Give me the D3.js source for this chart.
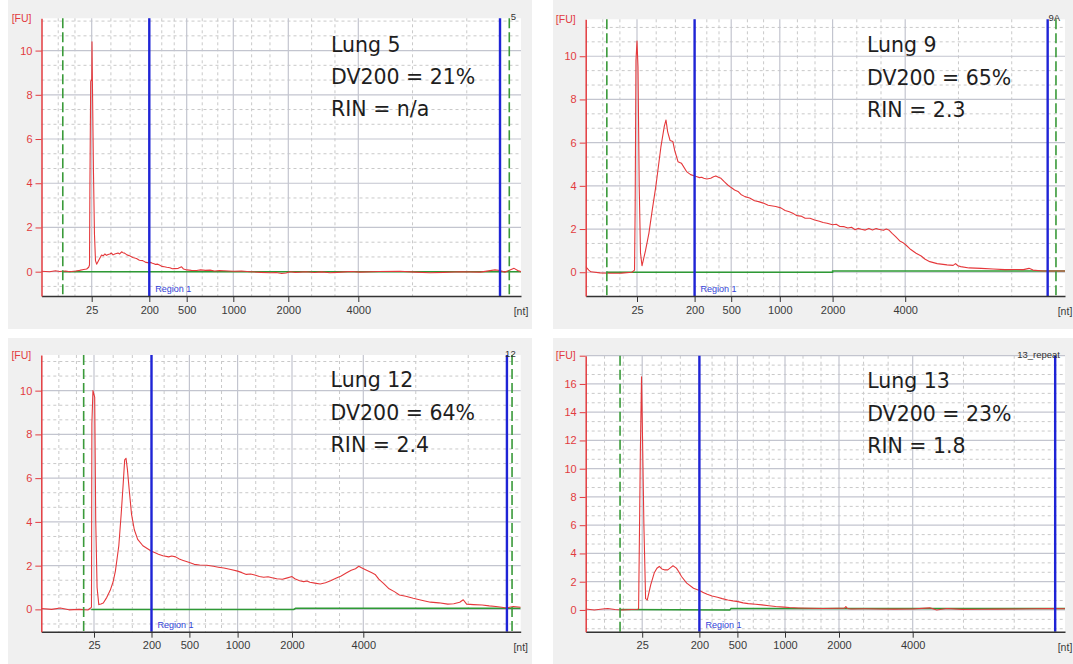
<!DOCTYPE html>
<html lang="en">
<head>
<meta charset="utf-8">
<title>Lung RNA electropherograms</title>
<script src="https://cdn.jsdelivr.net/npm/d3@7/dist/d3.min.js"></script>
<style>
body { margin: 0; background: #fff; }
svg { display: block; }
.note { font-family: "DejaVu Sans", sans-serif; font-size: 20.5px; fill: #1e1e1e; }
.xaxis text { font-family: "Liberation Sans", Arial, sans-serif; font-size: 11px; fill: #3a3a3a; }
.yaxis text { font-family: "Liberation Sans", Arial, sans-serif; font-size: 11px; fill: #e23b3f; }
.small { font-family: "Liberation Sans", Arial, sans-serif; }
</style>
</head>
<body>
<script>
// --- data -------------------------------------------------------------
var sampleTitles = ["Lung 5", "Lung 9", "Lung 12", "Lung 13"];
var dv200Values = ["21%", "65%", "64%", "23%"];
var rinValues = ["n/a", "2.3", "2.4", "1.8"];
var chipLabels = ["5", "9A", "12", "13_repeat"];

// ladder sizes shown on the x axis [nt], plus the nominal ends of the axis
var ladderNt = [25, 200, 500, 1000, 2000, 4000];
var axisEndsNt = [0, 6000];

// electropherogram traces: [size nt, fluorescence FU]
var traceLung5 = [[0,0.02],[4,0.0],[7,0.04],[9,0.01],[12,0.03],[14,0.0],[17,0.03],[19,0.06],[21,0.1],[22.5,0.12],[23.5,0.2],[23.9,0.3],
  [24.1,3.7],[24.5,8.6],[25.2,8.7],[25.9,10.4],[27.2,8.5],[30.4,4.5],[33.4,1.7],[36.5,0.5],[40,0.34],[44,0.45],[50,0.62],[55,0.75],
  [60,0.72],[65,0.8],[70,0.74],[75,0.78],[80,0.8],[85,0.84],[90,0.76],[95,0.8],[100,0.82],[105,0.84],[110,0.8],[116,0.9],[120,0.86],
  [125,0.84],[132,0.76],[140,0.72],[150,0.64],[161,0.6],[170,0.52],[180,0.5],[190,0.42],[200,0.4],[212,0.42],[225,0.38],[238,0.36],
  [250,0.33],[268,0.34],[285,0.29],[300,0.24],[320,0.22],[340,0.2],[365,0.18],[385,0.13],[400,0.14],[432,0.15],[459,0.22],[475,0.12],
  [500,0.08],[550,0.06],[607,0.05],[650,0.08],[700,0.06],[750,0.07],[800,0.03],[850,0.05],[900,0.04],[1000,0.02],[1150,0.03],[1300,0.0],
  [1500,-0.03],[1670,-0.05],[1780,-0.04],[1880,-0.08],[1960,-0.06],[2050,0.0],[2200,-0.03],[2330,-0.02],[2500,0.0],[2750,-0.04],[2950,-0.01],
  [3190,-0.05],[3400,-0.03],[3600,-0.01],[3800,0.01],[4020,-0.02],[4250,0.01],[4510,0.02],[4700,-0.02],[4880,-0.05],[5050,-0.03],[5250,0.0],
  [5500,-0.02],[5680,0.08],[5740,0.05],[5800,-0.02],[5915,0.15],[5960,0.05],[6000,0.0]];
var traceLung9 = [[0,0.26],[1.5,0.1],[2.5,0.02],[7,-0.03],[11.8,-0.05],[17.5,-0.04],[22.5,0.0],[23.8,0.1],[24.1,3.0],[24.5,9.8],[25,10.7],
  [28,9.5],[31.7,4.0],[35.6,0.9],[40.2,0.3],[50.8,1.0],[61.1,1.8],[71.5,2.9],[82.1,3.96],[97.6,5.8],[107.9,6.75],[113.1,7.05],[118.2,6.5],
  [125.5,6.1],[134,6.05],[139.2,5.66],[149.5,5.12],[159.8,5.05],[175.6,4.66],[188,4.52],[200,4.46],[220,4.42],[240,4.38],[258,4.4],
  [275,4.35],[300,4.32],[332,4.35],[355,4.42],[374,4.46],[395,4.4],[416,4.35],[445,4.18],[472,4.04],[500,3.92],[535,3.81],[570,3.74],
  [600,3.6],[641,3.5],[690,3.44],[740,3.31],[782,3.27],[830,3.2],[880,3.1],[958,3.04],[1020,2.98],[1100,2.86],[1180,2.8],[1246,2.73],
  [1320,2.62],[1400,2.6],[1480,2.5],[1572,2.5],[1660,2.42],[1750,2.36],[1820,2.3],[1896,2.27],[2000,2.2],[2100,2.22],[2200,2.12],
  [2320,2.11],[2420,2.05],[2520,2.08],[2620,1.97],[2700,2.03],[2791,1.99],[2900,1.95],[3000,2.03],[3100,1.96],[3200,2.02],[3265,1.99],
  [3400,1.94],[3480,2.0],[3546,1.96],[3640,1.8],[3736,1.65],[3850,1.45],[3930,1.38],[4009,1.26],[4070,1.05],[4136,0.88],[4200,0.75],
  [4250,0.6],[4308,0.49],[4400,0.4],[4523,0.34],[4600,0.32],[4630,0.4],[4660,0.3],[4695,0.26],[4800,0.2],[4952,0.18],[5100,0.15],
  [5250,0.12],[5381,0.13],[5480,0.12],[5550,0.18],[5600,0.1],[5723,0.06],[6000,0.06]];
var traceLung12 = [[0,0.04],[4.9,0.0],[9,0.06],[13.1,-0.02],[18,0.0],[22.1,-0.03],[23.2,0.05],[23.8,0.1],[24,8.5],[24.5,10.0],[27.1,9.7],
  [30.2,4.1],[34.4,1.0],[39.6,0.22],[46,0.25],[53.3,0.29],[64,0.55],[74.3,0.87],[83,1.25],[90.1,1.75],[100.5,2.91],[107.8,4.37],[114.2,5.82],
  [118.4,6.84],[122.4,6.91],[126.7,6.4],[131.8,5.53],[139.1,4.37],[147.7,3.64],[158,3.2],[173.8,2.91],[200,2.66],[225,2.6],[254.6,2.52],
  [290,2.45],[336,2.4],[360,2.44],[391,2.4],[420,2.3],[445,2.25],[470,2.2],[500,2.14],[550,2.06],[607,2.03],[680,2.02],[750,1.97],
  [800,1.93],[857,1.89],[930,1.82],[1000,1.75],[1080,1.68],[1160,1.6],[1240,1.62],[1316,1.57],[1400,1.5],[1480,1.47],[1560,1.49],
  [1632,1.45],[1720,1.4],[1823,1.38],[1900,1.43],[2000,1.5],[2080,1.4],[2213,1.31],[2330,1.27],[2420,1.3],[2502,1.24],[2640,1.2],
  [2791,1.16],[2940,1.22],[3083,1.31],[3230,1.42],[3380,1.53],[3520,1.66],[3661,1.79],[3780,1.86],[3874,1.97],[3950,1.9],[4022,1.82],
  [4109,1.67],[4150,1.6],[4197,1.38],[4260,1.18],[4328,0.94],[4400,0.8],[4459,0.66],[4540,0.6],[4634,0.51],[4740,0.42],[4853,0.33],
  [4960,0.3],[5073,0.24],[5150,0.26],[5225,0.33],[5270,0.44],[5313,0.24],[5400,0.22],[5510,0.2],[5600,0.16],[5685,0.13],[5760,0.1],
  [5816,0.06],[5860,0.1],[5904,0.13],[6000,0.1]];
var traceLung13 = [[0,0.07],[3.8,0.0],[8.3,0.08],[9.8,0.1],[12.9,0.03],[15.9,0.0],[20.4,0.03],[23.1,0.05],[23.4,0.1],[23.5,1.4],[24.2,11.3],
  [24.7,16.5],[26.8,11.0],[30.2,6.0],[35.4,0.8],[40.6,0.71],[51,1.78],[61.7,2.61],[70,2.95],[77.3,3.08],[85,2.9],[92.9,2.84],[103.3,2.84],
  [112,3.0],[119.2,3.13],[129.6,2.96],[137,2.7],[145.2,2.37],[161.2,1.9],[182,1.54],[200,1.37],[230,1.24],[261.6,1.11],[300,0.99],
  [342.9,0.9],[380,0.8],[424.2,0.71],[465,0.64],[506.3,0.59],[560,0.5],[614.4,0.45],[690,0.4],[758.3,0.36],[830,0.3],[902,0.24],
  [990,0.2],[1081,0.17],[1250,0.14],[1463,0.12],[1700,0.1],[1970,0.12],[2150,0.13],[2187,0.24],[2230,0.1],[2326,0.07],[2700,0.08],
  [3072,0.07],[3500,0.06],[4000,0.07],[4225,0.15],[4315,0.0],[4450,0.1],[4650,0.04],[4899,0.05],[5100,0.06],[5350,0.07],[5600,0.08],
  [5799,0.1],[6000,0.09]];

// fitted baselines (green)
var baselineLung5 = [[10.6,0],[6000,0]];
var baselineLung9 = [[10.3,0],[2000,0],[2000,0.06],[6000,0.06]];
var baselineLung12 = [[23.7,0],[2050,0],[2100,0.05],[6000,0.05]];
var baselineLung13 = [[15.2,0.03],[440,0],[450,0.1],[6000,0.1]];

// region 1 limits (blue) and marker limits (green dashed), nt
var regionNt = [[200,5742],[200,5783],[200,5825],[200,5871]];
var markerNt = [[10.6,5856],[10.3,5887],[20.1,5890],[15.2]];

var traces = [traceLung5, traceLung9, traceLung12, traceLung13];
var baselines = [baselineLung5, baselineLung9, baselineLung12, baselineLung13];

// --- layout (pixel positions of the axis stops, per panel) --------------
var panels = [
  {bg: [8, 0, 532, 329], xs: [41.5, 91.7, 149.3, 186.7, 233.3, 288.3, 358.3, 521], top: 18.3, bottom: 296, yDomain: [-1.1, 11.46], note: [331, 51.7]},
  {bg: [553, 0, 1073, 329], xs: [585.7, 637, 694.6, 731.2, 779.8, 832.6, 905.2, 1065], top: 19.3, bottom: 296, yDomain: [-1.1, 11.71], note: [867, 52.3]},
  {bg: [8, 338, 532, 664], xs: [41.3, 94, 151.5, 189.4, 237.6, 292, 363.3, 520.7], top: 355, bottom: 631.7, yDomain: [-1.02, 11.63], note: [330.6, 387.3]},
  {bg: [553, 338, 1073, 664], xs: [585.7, 642.2, 699.4, 737.4, 785, 839, 912.7, 1065], top: 355.7, bottom: 631.7, yDomain: [-1.54, 18], note: [867.2, 388.3]}
];

var red = "#e23b3f", blue = "#1f24d6", green = "#3a9a3a";

var svg = d3.select("body").append("svg")
    .attr("width", 1073)
    .attr("height", 664);

panels.forEach(function(p, i) {
    var g = svg.append("g");
    var L = p.xs[0], R = p.xs[p.xs.length - 1];

    // x is piecewise linear between ladder sizes (like the instrument's axis)
    var x = d3.scaleLinear()
        .domain([axisEndsNt[0]].concat(ladderNt, [axisEndsNt[1]]))
        .range(p.xs);
    var y = d3.scaleLinear().domain(p.yDomain).range([p.bottom, p.top]);

    g.append("rect")
        .attr("x", p.bg[0]).attr("y", p.bg[1])
        .attr("width", p.bg[2] - p.bg[0]).attr("height", p.bg[3] - p.bg[1])
        .attr("fill", "#f0f0f0");
    g.append("rect")
        .attr("x", L).attr("y", p.top)
        .attr("width", R - L).attr("height", p.bottom - p.top)
        .attr("fill", "#ffffff");

    //minor grid: thirds between stops
    var stops = x.domain(), minorX = [];
    for (var k = 0; k < stops.length - 1; k++) {
        var a = stops[k], b = stops[k + 1];
        minorX.push(a + (b - a) / 3, a + 2 * (b - a) / 3);
    }
    var minorY = d3.range(Math.ceil(p.yDomain[0] * 1.5), Math.floor(p.yDomain[1] * 1.5) + 1)
        .filter(function(k) { return k % 3 !== 0; })
        .map(function(k) { return k * 2 / 3; });

    g.selectAll(".mx").data(minorX).enter().append("line")
        .attr("x1", function(d) { return x(d); }).attr("x2", function(d) { return x(d); })
        .attr("y1", p.top).attr("y2", p.bottom)
        .attr("stroke", "#c9c9c9").attr("stroke-width", 1).attr("stroke-dasharray", "3,3");
    g.selectAll(".my").data(minorY).enter().append("line")
        .attr("x1", L).attr("x2", R)
        .attr("y1", function(d) { return y(d); }).attr("y2", function(d) { return y(d); })
        .attr("stroke", "#c9c9c9").attr("stroke-width", 1).attr("stroke-dasharray", "3,3");

    //major grid
    var yTicks = d3.range(0, p.yDomain[1] + 0.001, 2);
    g.selectAll(".gx").data(ladderNt).enter().append("line")
        .attr("x1", function(d) { return x(d); }).attr("x2", function(d) { return x(d); })
        .attr("y1", p.top).attr("y2", p.bottom)
        .attr("stroke", "#c3c5cf").attr("stroke-width", 1.2);
    g.selectAll(".gy").data(yTicks).enter().append("line")
        .attr("x1", L).attr("x2", R)
        .attr("y1", function(d) { return y(d); }).attr("y2", function(d) { return y(d); })
        .attr("stroke", "#c3c5cf").attr("stroke-width", 1.2);

    var clipId = "clip" + i;
    g.append("clipPath").attr("id", clipId).append("rect")
        .attr("x", L).attr("y", p.top).attr("width", R - L).attr("height", p.bottom - p.top);

    var line = d3.line()
        .x(function(d) { return x(d[0]); })
        .y(function(d) { return y(d[1]); });

    g.append("path").datum(baselines[i])
        .attr("d", line)
        .attr("fill", "none").attr("stroke", "#2e9a35").attr("stroke-width", 1.5)
        .attr("clip-path", "url(#" + clipId + ")");

    g.append("path").datum(traces[i])
        .attr("d", line)
        .attr("fill", "none").attr("stroke", "#e5383b").attr("stroke-width", 1.1)
        .attr("stroke-linejoin", "round")
        .attr("clip-path", "url(#" + clipId + ")");

    // markers (green dashed) and region (blue)
    g.selectAll(".mk").data(markerNt[i]).enter().append("line")
        .attr("x1", function(d) { return x(d); }).attr("x2", function(d) { return x(d); })
        .attr("y1", p.top).attr("y2", p.bottom)
        .attr("stroke", green).attr("stroke-width", 1.6).attr("stroke-dasharray", "10,4");
    g.selectAll(".rg").data(regionNt[i]).enter().append("line")
        .attr("x1", function(d) { return x(d); }).attr("x2", function(d) { return x(d); })
        .attr("y1", p.top).attr("y2", p.bottom)
        .attr("stroke", blue).attr("stroke-width", 2.4);

    g.append("text").attr("class", "small")
        .attr("x", x(regionNt[i][0]) + 6).attr("y", p.bottom - 4)
        .attr("font-size", "9px").attr("fill", "#3342d8")
        .text("Region 1");

    // axes
    var xAxis = g.append("g").attr("class", "xaxis")
        .attr("transform", "translate(0," + p.bottom + ")")
        .call(d3.axisBottom(x).tickValues(ladderNt).tickSize(6).tickSizeOuter(0).tickPadding(4)
            .tickFormat(d3.format("d")));
    xAxis.select(".domain").attr("stroke", "#333").attr("stroke-width", 1.5);
    xAxis.selectAll(".tick line").attr("stroke", "#333");

    var yAxis = g.append("g").attr("class", "yaxis")
        .attr("transform", "translate(" + L + ",0)")
        .call(d3.axisLeft(y).tickValues(yTicks).tickSize(6).tickSizeOuter(0).tickPadding(3)
            .tickFormat(function(d) { return d >= p.yDomain[1] - 0.01 ? "" : d; }));
    yAxis.select(".domain").attr("stroke", red).attr("stroke-width", 1.5);
    yAxis.selectAll(".tick line").attr("stroke", red);

    g.append("text").attr("class", "small")
        .attr("x", L - 10).attr("y", p.top).attr("dy", "0.35em")
        .attr("text-anchor", "end").attr("font-size", "10.5px").attr("fill", red)
        .text("[FU]");
    g.append("text").attr("class", "small")
        .attr("x", R).attr("y", p.bottom + 19)
        .attr("text-anchor", "middle").attr("font-size", "10.5px").attr("fill", "#3a3a3a")
        .text("[nt]");
    g.append("text").attr("class", "small")
        .attr("x", R - 5).attr("y", p.top + 2)
        .attr("text-anchor", "end").attr("font-size", "9.5px").attr("fill", "#333")
        .text(chipLabels[i]);

    // sample annotation
    var lines = [sampleTitles[i], "DV200 = " + dv200Values[i], "RIN = " + rinValues[i]];
    g.selectAll(".note").data(lines).enter().append("text")
        .attr("class", "note")
        .attr("x", p.note[0])
        .attr("y", function(d, j) { return p.note[1] + j * 32.2; })
        .text(function(d) { return d; });
});
</script>
</body>
</html>
